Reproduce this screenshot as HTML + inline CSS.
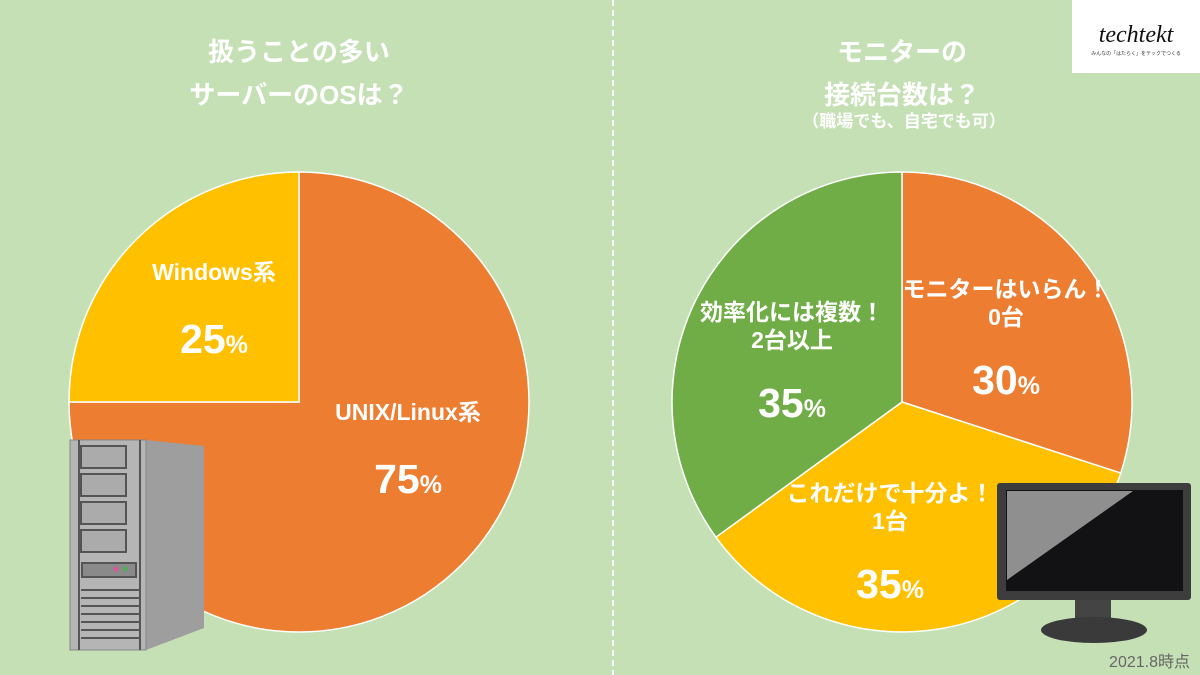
<!DOCTYPE html>
<html><head><meta charset="utf-8"><style>
body{margin:0;width:1200px;height:675px;background:#c5e0b4;overflow:hidden;font-family:"Liberation Sans","Noto Sans CJK JP",sans-serif}
svg{position:absolute;left:0;top:0}
</style></head><body>
<svg width="1200" height="675">
<line x1="613" y1="0" x2="613" y2="675" stroke="#fff" stroke-width="2" stroke-dasharray="6,4"/>
<g font-weight="bold" fill="#fff" text-anchor="middle" font-size="26">
<text x="299" y="61">扱うことの多い</text>
<text x="299" y="104">サーバーのOSは？</text>
<text x="902" y="61">モニターの</text>
<text x="902" y="104">接続台数は？</text>
<text x="904" y="127" font-size="17">（職場でも、自宅でも可）</text>
</g>
<g id="left"></g><g id="right"></g>
<g>
<path d="M146 440 L204 446 L204 628 L146 650 Z" fill="#9e9e9e"/>
<rect x="70" y="440" width="76" height="210" fill="#b5b5b5" stroke="#888"/>
<line x1="79" y1="440" x2="79" y2="650" stroke="#555" stroke-width="2"/>
<line x1="140" y1="440" x2="140" y2="650" stroke="#555" stroke-width="2"/>
<g fill="#ababab" stroke="#555" stroke-width="2">
<rect x="81" y="446" width="45" height="22"/><rect x="81" y="474" width="45" height="22"/><rect x="81" y="502" width="45" height="22"/><rect x="81" y="530" width="45" height="22"/>
<rect x="82" y="563" width="54" height="14" fill="#8a8a8a"/></g>
<g stroke="#555" stroke-width="2">
<line x1="81" y1="590" x2="140" y2="590"/><line x1="81" y1="598" x2="140" y2="598"/><line x1="81" y1="606" x2="140" y2="606"/><line x1="81" y1="614" x2="140" y2="614"/><line x1="81" y1="622" x2="140" y2="622"/><line x1="81" y1="630" x2="140" y2="630"/><line x1="81" y1="638" x2="140" y2="638"/></g>
<circle cx="116" cy="569" r="2.5" fill="#e0539a"/><circle cx="125" cy="569" r="2.5" fill="#4caf50"/>
</g>
<g>
<rect x="1075" y="598" width="36" height="24" fill="#444"/>
<ellipse cx="1094" cy="630" rx="53" ry="13" fill="#3a3a3a"/>
<rect x="997" y="483" width="194" height="117" rx="3" fill="#3d3d3d"/>
<rect x="1006" y="490" width="177" height="101" fill="#121214"/>
<path d="M1007 491 L1133 491 L1007 580 Z" fill="#8f8f8f"/>
</g>
<g>
<rect x="1072" y="0" width="128" height="73" fill="#fff"/>
<text x="1136" y="42" text-anchor="middle" font-size="24" font-style="italic" fill="#111" font-family="Liberation Serif,serif">techtekt</text>
<text x="1136" y="55" text-anchor="middle" font-size="5" fill="#333">みんなの「はたらく」をテックでつくる</text>
</g>
<text x="1190" y="667" text-anchor="end" font-size="16" fill="#666">2021.8時点</text>
</svg>
<script>
const leftCats=["UNIX/Linux系","Windows系"];
const leftVals=[75,25];
const leftColors=["#ed7d31","#ffc000"];
const rightCats=["モニターはいらん！|0台","これだけで十分よ！|1台","効率化には複数！|2台以上"];
const rightVals=[30,35,35];
const rightColors=["#ed7d31","#ffc000","#70ad47"];
// label layout offsets (relative to pie centre) – styling only
const leftLabelOffsets=[[109,18],[-85,-122]];
const rightLabelOffsets=[[104,-105],[-12,99],[-110,-82]];
const NS="http://www.w3.org/2000/svg";
function mk(t,a){const e=document.createElementNS(NS,t);for(const k in a)e.setAttribute(k,a[k]);return e;}
function pt(cx,cy,r,f){const a=f*2*Math.PI;return [cx+r*Math.sin(a),cy-r*Math.cos(a)];}
function pie(g,cx,cy,r,cats,vals,cols,offs,name){
 const tot=vals.reduce((a,b)=>a+b,0);let acc=0;
 vals.forEach((v,i)=>{const f0=acc/tot,f1=(acc+v)/tot;acc+=v;
  const p0=pt(cx,cy,r,f0),p1=pt(cx,cy,r,f1);const lg=(f1-f0)>0.5?1:0;
  const p=mk("path",{d:`M${cx} ${cy} L${p0[0]} ${p0[1]} A${r} ${r} 0 ${lg} 1 ${p1[0]} ${p1[1]} Z`,fill:cols[i],stroke:"#fff","stroke-width":1.5});
  
  
  g.appendChild(p);
  const ax=cx+offs[i][0],ay=cy+offs[i][1];
  const lines=cats[i].split("|");
  const t=mk("text",{x:ax,y:ay,"text-anchor":"middle",fill:"#fff","font-weight":"bold","font-size":23});
  
  
  lines.forEach((l,j)=>{const s=mk("tspan",{x:ax,dy:j?28:0});s.textContent=l;t.appendChild(s);});
  g.appendChild(t);
  const pc=mk("text",{x:ax,y:ay+(lines.length===2?97:73),"text-anchor":"middle",fill:"#fff","font-weight":"bold","font-size":41});
  
  
  pc.innerHTML=v+'<tspan font-size="25">%</tspan>';
  g.appendChild(pc);
 });
}
pie(document.getElementById("left"),299,402,230,leftCats,leftVals,leftColors,leftLabelOffsets,"os-pie");
pie(document.getElementById("right"),902,402,230,rightCats,rightVals,rightColors,rightLabelOffsets,"monitor-pie");
</script>
</body></html>
